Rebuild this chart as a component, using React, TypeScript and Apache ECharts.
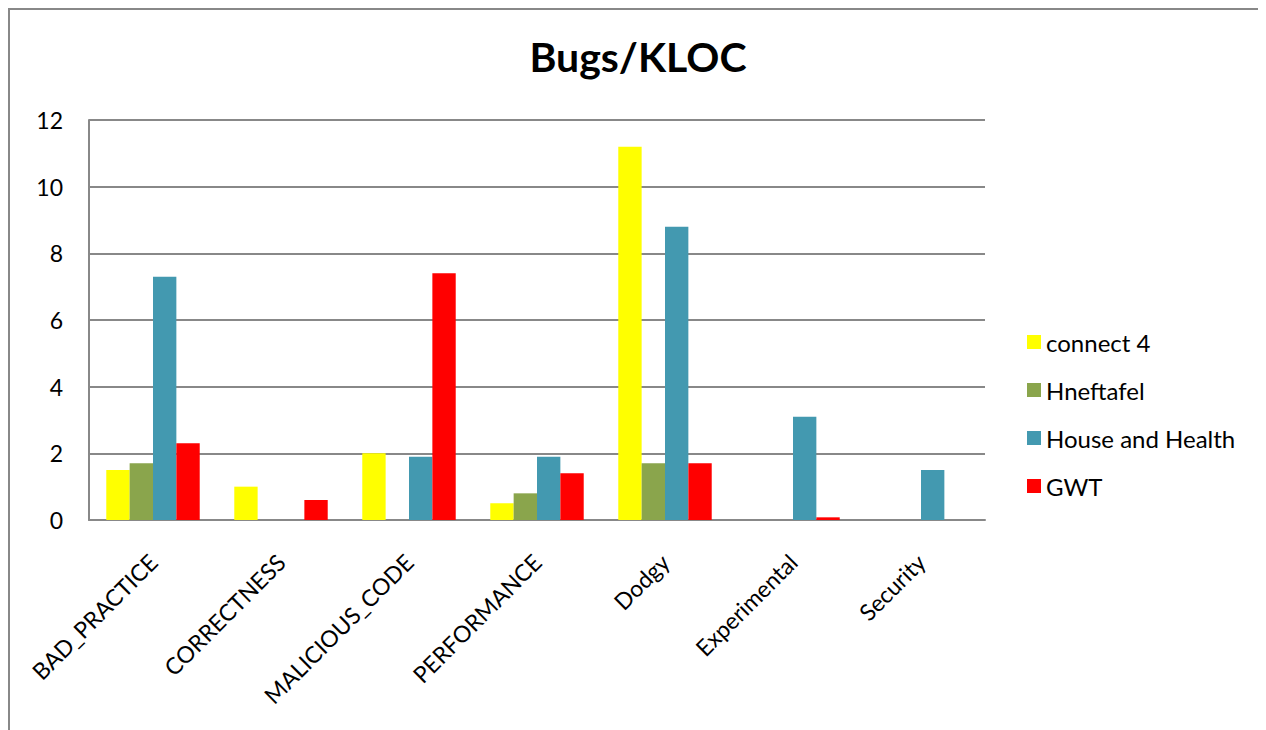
import React, { useEffect, useRef } from "react";
import * as echarts from "echarts";

const categories = [
  "BAD_PRACTICE",
  "CORRECTNESS",
  "MALICIOUS_CODE",
  "PERFORMANCE",
  "Dodgy",
  "Experimental",
  "Security",
];

const seriesNames = ["connect 4", "Hneftafel", "House and Health", "GWT"];
const connect4 = [1.5, 1.0, 2.0, 0.5, 11.2, 0, 0];
const hneftafel = [1.7, 0, 0, 0.8, 1.7, 0, 0];
const houseAndHealth = [7.3, 0, 1.9, 1.9, 8.8, 3.1, 1.5];
const gwt = [2.3, 0.6, 7.4, 1.4, 1.7, 0.08, 0];
const seriesColors = ["#FFFF00", "#8AA54C", "#4399B0", "#FF0000"];

const FONT = "Lato, 'Open Sans', sans-serif";

export default function App() {
  const ref = useRef<HTMLDivElement>(null);

  useEffect(() => {
    if (!ref.current) return;
    const chart = echarts.init(ref.current, null, { renderer: "svg" });
    const values = [connect4, hneftafel, houseAndHealth, gwt];

    chart.setOption({
      animation: false,
      backgroundColor: "#ffffff",
      title: {
        text: "Bugs/KLOC",
        left: 630,
        top: 28,
        padding: 0,
        textAlign: "center",
        textStyle: {
          fontFamily: FONT,
          fontSize: 41,
          fontWeight: "bold",
          color: "#000",
        },
      },
      legend: {
        orient: "vertical",
        left: 1019,
        top: 322,
        padding: 0,
        itemWidth: 14,
        itemHeight: 14,
        itemGap: 24,
        icon: "rect",
        data: seriesNames,
        textStyle: {
          fontFamily: FONT,
          fontSize: 24,
          lineHeight: 24,
          color: "#000",
        },
      },
      grid: { left: 81, top: 112, right: 281, bottom: 210, containLabel: false },
      xAxis: {
        type: "category",
        data: categories,
        axisLine: { show: true, lineStyle: { color: "#888", width: 2 } },
        axisTick: { show: false },
        axisLabel: {
          rotate: 45,
          margin: 38,
          interval: 0,
          fontFamily: FONT,
          fontSize: 23,
          color: "#000",
        },
      },
      yAxis: {
        type: "value",
        min: 0,
        max: 12,
        interval: 2,
        axisLine: { show: true, lineStyle: { color: "#888", width: 2 } },
        axisTick: { show: false },
        splitLine: { show: true, lineStyle: { color: "#888", width: 2 } },
        axisLabel: {
          margin: 26,
          fontFamily: FONT,
          fontSize: 23,
          color: "#000",
        },
      },
      graphic: [
        {
          type: "line",
          shape: { x1: 0, y1: 1, x2: 1258, y2: 1 },
          style: { stroke: "#888", lineWidth: 2 },
        },
        {
          type: "line",
          shape: { x1: 1, y1: 0, x2: 1, y2: 722 },
          style: { stroke: "#888", lineWidth: 2 },
        },
      ],
      series: seriesNames.map((name, i) => ({
        name,
        type: "bar",
        data: values[i],
        barGap: "0%",
        barCategoryGap: "27%",
        itemStyle: { color: seriesColors[i] },
      })),
    });

    return () => chart.dispose();
  }, []);

  return <div ref={ref} style={{ width: 1258, height: 722, overflow: "hidden" }} />;
}
